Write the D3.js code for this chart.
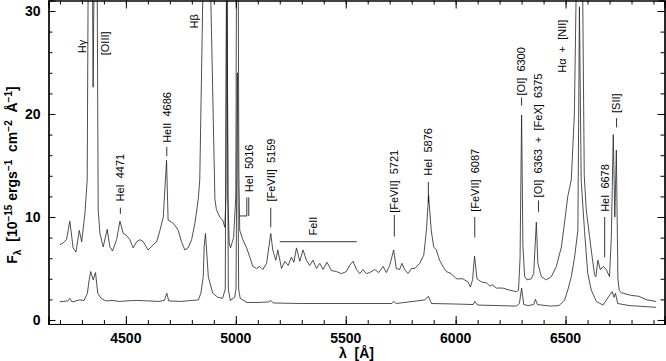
<!DOCTYPE html>
<html>
<head>
<meta charset="utf-8">
<script src="https://cdn.jsdelivr.net/npm/d3@7"></script>
<style>
  body { margin: 0; background: #fff; }
  svg { font-family: "Liberation Sans", Arial, sans-serif; }
  .tick-label { font-size: 14px; font-weight: bold; fill: #000; }
  .line-label { font-size: 11px; fill: #000; white-space: pre; }
  .axis-title { font-size: 14px; font-weight: bold; fill: #000; }
</style>
</head>
<body>
<script>
// spectrum with the broad lines (top curve)
var upperWave = [4200, 4215, 4230, 4245, 4260, 4273, 4288, 4299, 4314, 4324, 4330, 4340, 4351, 4358, 4363, 4368,
  4374, 4382, 4397, 4415, 4427, 4439, 4458, 4473, 4488, 4503, 4518, 4533, 4549, 4564, 4579, 4601, 4624,
  4640, 4655, 4670, 4685, 4692, 4708, 4723, 4738, 4753, 4768, 4783, 4799, 4814, 4829, 4836, 4850, 4861,
  4886, 4905, 4912, 4927, 4940, 4950, 4955, 4959, 4964, 4970, 4976, 4990, 5000, 5007, 5014, 5018, 5032,
  5049, 5064, 5077, 5094, 5109, 5123, 5140, 5159, 5168, 5182, 5191, 5208, 5223, 5238, 5253, 5264, 5276,
  5291, 5306, 5321, 5336, 5351, 5367, 5382, 5397, 5415, 5435, 5458, 5480, 5503, 5518, 5533, 5549, 5564,
  5579, 5594, 5609, 5632, 5650, 5670, 5685, 5700, 5718, 5730, 5745, 5756, 5768, 5783, 5799, 5814, 5836,
  5855, 5867, 5877, 5889, 5900, 5912, 5927, 5945, 5958, 5980, 6003, 6032, 6056, 6067, 6077, 6086, 6097,
  6117, 6140, 6155, 6168, 6185, 6214, 6245, 6276, 6286, 6293, 6300, 6306, 6314, 6324, 6344, 6355, 6367,
  6374, 6390, 6412, 6435, 6458, 6481, 6495, 6510, 6526, 6540, 6548, 6563, 6578, 6585, 6594, 6609, 6621,
  6632, 6638, 6647, 6658, 6673, 6685, 6700, 6708, 6717, 6724, 6731, 6738, 6744, 6753, 6795, 6833, 6870, 6912];
var upperFlux = [7.3, 7.5, 7.8, 9.6, 7.0, 6.6, 8.7, 7.6, 10.4, 13.6, 40, 60, 22.6, 40, 45, 40,
  10.7, 8.4, 7.1, 8.8, 7.1, 6.7, 7.8, 9.6, 8.4, 8.2, 7.8, 7.0, 7.6, 7.8, 7.6, 6.8, 7.3,
  7.6, 8.7, 10.0, 15.5, 9.7, 9.5, 9.2, 8.7, 7.6, 6.8, 7.0, 7.8, 9.4, 11.7, 13.6, 31.5, 80,
  31.5, 11.7, 10.7, 10.0, 9.7, 9.0, 12, 40, 12, 7.5, 7.0, 8.0, 12, 60, 14, 8.7, 7.8,
  7.0, 6.1, 5.2, 5.0, 5.2, 4.9, 5.5, 8.4, 6.8, 5.8, 6.8, 5.0, 5.7, 5.3, 6.1, 5.6, 7.0,
  5.7, 6.8, 5.8, 5.3, 5.8, 5.0, 5.5, 4.9, 5.6, 4.8, 4.7, 4.5, 4.7, 5.3, 5.7, 4.9, 4.5,
  4.9, 4.5, 4.6, 4.9, 4.6, 5.2, 4.6, 5.3, 6.8, 5.0, 4.9, 5.5, 4.9, 4.5, 5.0, 5.0, 5.5,
  6.3, 8.7, 12.1, 8.7, 7.1, 6.8, 5.8, 5.1, 4.7, 4.5, 4.0, 4.0, 3.7, 3.2, 3.9, 6.2, 4.0,
  3.7, 3.6, 3.3, 3.4, 3.1, 3.1, 2.9, 2.75, 2.9, 6.0, 19.9, 7.1, 4.2, 3.9, 4.0, 4.5, 9.5,
  5.5, 4.2, 3.9, 4.2, 5.2, 7.1, 9.4, 12.0, 13.6, 20, 31.5, 80, 31.5, 14, 10.7, 8.1, 6.1,
  4.4, 4.2, 5.8, 4.9, 5.2, 4.9, 4.2, 8, 18, 10, 16.5, 4, 2.9, 2.65, 2.4, 2.3, 1.95, 1.8];

// narrow line spectrum (bottom curve)
var lowerWave = [4200, 4215, 4235, 4245, 4255, 4290, 4310, 4325, 4333, 4340, 4351, 4362, 4372, 4387, 4410,
  4440, 4470, 4500, 4550, 4600, 4650, 4675, 4686, 4695, 4750, 4800, 4830, 4841, 4852, 4856, 4862, 4868,
  4875, 4895, 4918, 4940, 4952, 4959, 4966, 4975, 4995, 5001, 5007, 5013, 5020, 5050, 5100, 5150, 5159,
  5170, 5300, 5500, 5710, 5718, 5730, 5860, 5876, 5890, 6000, 6080, 6087, 6100, 6276, 6290, 6300, 6310,
  6330, 6355, 6363, 6372, 6430, 6470, 6495, 6510, 6526, 6541, 6556, 6563, 6571, 6586, 6601, 6617, 6640,
  6670, 6712, 6720, 6727, 6737, 6790, 6912];
var lowerFlux = [1.78, 1.8, 1.85, 2.1, 1.75, 1.95, 1.9, 2.6, 3.9, 4.7, 3.9, 4.6, 2.6, 2.1, 1.85,
  1.9, 1.8, 1.85, 1.9, 1.85, 1.8, 1.9, 2.6, 1.85, 1.8, 1.9, 1.95, 2.6, 4.2, 7.1, 8.4, 6.5,
  4.2, 2.6, 2.2, 2.1, 3.0, 40, 3.0, 1.9, 2.2, 3.0, 24, 3.0, 2.1, 1.7, 1.7, 1.75, 1.9,
  1.65, 1.6, 1.6, 1.6, 1.8, 1.6, 1.95, 2.3, 1.6, 1.55, 1.5, 1.8, 1.45, 1.35, 1.6, 3.1, 1.5,
  1.4, 1.5, 2.0, 1.5, 1.35, 1.4, 1.9, 2.9, 4.2, 6.1, 8.7, 30.4, 13.6, 8.7, 4.5, 2.9, 1.8,
  1.45, 2.75, 2.2, 2.6, 1.6, 1.4, 1.23];

// line identifications: wavelength of the label, flux where the label starts
var labelText = ["H\u03b3", "[OIII]", "H\u03b2", "HeII  4686", "HeI  4471", "HeI  5016", "[FeVII]  5159",
  "FeII", "[FeVII]  5721", "HeI  5876", "[FeVII]  6087", "[OI]  6300", "[OI]  6363  +  [FeX]  6375",
  "H\u03b1  +  [NII]", "HeI  6678", "[SII]"];
var labelWave = [4300, 4405, 4809, 4686, 4475, 5059, 5159, 5352, 5721, 5876, 6087, 6300, 6377, 6486, 6678, 6732];
var labelFlux = [25.9, 25.7, 28.3, 17.2, 11.5, 12.4, 11.5, 8.2, 10.4, 14.0, 10.5, 21.8, 11.9, 24.0, 10.5, 20.1];
// short marker lines below labels [from flux, to flux], null = none
var markTop = [null, null, null, 16.8, 10.9, 11.9, 10.9, null, 10.2, 13.4, 10.0, 21.6, 11.6, null, 10.0, 19.6];
var markBot = [null, null, null, 15.9, 10.3, 10.1, 9.0, null, 8.1, 11.4, 8.0, 20.8, 10.5, null, 6.1, 18.7];
var feiiRange = [5200, 5550];
var feiiLevel = 7.6;
var bracket5016 = [5018, 5050];

var xTicks = [4500, 5000, 5500, 6000, 6500];
var yTicks = [0, 10, 20, 30];

var W = 666, H = 361;
var margin = {top: 0.5, right: 1.5, bottom: 37, left: 48.5};
var width = W - margin.left - margin.right,
    height = H - margin.top - margin.bottom;

var svg = d3.select("body").append("svg")
  .attr("width", W)
  .attr("height", H);

var g = svg.append("g")
  .attr("transform", "translate(" + margin.left + "," + margin.top + ")");

var x = d3.scaleLinear().domain([4148, 6950]).range([0, width]);
var y = d3.scaleLinear().domain([-0.39, 31.02]).range([height, 0]);

g.append("clipPath").attr("id", "clip")
  .append("rect").attr("width", width).attr("height", height);

var line = d3.line()
  .x(function(d) { return x(d[0]); })
  .y(function(d) { return y(d[1]); });

var plot = g.append("g").attr("clip-path", "url(#clip)");

plot.append("path")
  .datum(d3.zip(upperWave, upperFlux))
  .attr("d", line)
  .attr("fill", "none")
  .attr("stroke", "#222")
  .attr("stroke-width", 0.8);

plot.append("path")
  .datum(d3.zip(lowerWave, lowerFlux))
  .attr("d", line)
  .attr("fill", "none")
  .attr("stroke", "#222")
  .attr("stroke-width", 0.8);

// frame with inward ticks on all four sides
var minorXTicks = d3.range(4200, 6901, 100), minorYTicks = d3.range(0, 31, 2);

g.append("g").attr("transform", "translate(0," + height + ")")
  .call(d3.axisTop(x).tickValues(minorXTicks).tickSize(4).tickFormat(""));
g.append("g").attr("transform", "translate(0," + height + ")")
  .call(d3.axisTop(x).tickValues(xTicks).tickSize(8).tickFormat(""));
g.append("g")
  .call(d3.axisBottom(x).tickValues(minorXTicks).tickSize(4).tickFormat(""));
g.append("g")
  .call(d3.axisBottom(x).tickValues(xTicks).tickSize(8).tickFormat(""));
g.append("g")
  .call(d3.axisRight(y).tickValues(minorYTicks).tickSize(4).tickFormat(""));
g.append("g")
  .call(d3.axisRight(y).tickValues(yTicks).tickSize(7).tickFormat(""));
g.append("g").attr("transform", "translate(" + width + ",0)")
  .call(d3.axisLeft(y).tickValues(minorYTicks).tickSize(4).tickFormat(""));
g.append("g").attr("transform", "translate(" + width + ",0)")
  .call(d3.axisLeft(y).tickValues(yTicks).tickSize(7).tickFormat(""));

g.selectAll(".domain").attr("stroke", "#000").attr("stroke-width", 1.2);
g.selectAll(".tick line").attr("stroke", "#000").attr("stroke-width", 1);

// tick labels
g.selectAll(".xlab").data(xTicks).enter().append("text")
  .attr("class", "tick-label")
  .attr("x", function(d) { return x(d); })
  .attr("y", height + 19)
  .attr("text-anchor", "middle")
  .text(function(d) { return d; });

g.selectAll(".ylab").data(yTicks).enter().append("text")
  .attr("class", "tick-label")
  .attr("x", -8)
  .attr("y", function(d) { return y(d) + 5; })
  .attr("text-anchor", "end")
  .text(function(d) { return d; });

// axis titles
var xt = svg.append("text")
  .attr("class", "axis-title")
  .attr("x", margin.left + width / 2)
  .attr("y", 358)
  .attr("text-anchor", "middle")
  .style("white-space", "pre")
  .text("\u03bb  [\u00c5]");

var yt = svg.append("text")
  .attr("class", "axis-title")
  .attr("transform", "translate(17,175) rotate(-90)")
  .attr("text-anchor", "middle")
  .style("white-space", "pre");
yt.append("tspan").text("F");
yt.append("tspan").text("\u03bb").attr("dy", 4).style("font-size", "10px");
yt.append("tspan").text("  [10").attr("dy", -4);
yt.append("tspan").text("\u221215").attr("dy", -5).style("font-size", "10px");
yt.append("tspan").text(" ergs").attr("dy", 5);
yt.append("tspan").text("\u22121").attr("dy", -5).style("font-size", "10px");
yt.append("tspan").text("  cm").attr("dy", 5);
yt.append("tspan").text("\u22122").attr("dy", -5).style("font-size", "10px");
yt.append("tspan").text("  \u00c5").attr("dy", 5);
yt.append("tspan").text("\u22121").attr("dy", -5).style("font-size", "10px");
yt.append("tspan").text("]").attr("dy", 5);

// line labels
labelText.forEach(function(t, i) {
  g.append("text")
    .attr("class", "line-label")
    .attr("transform", "translate(" + x(labelWave[i]) + "," + y(labelFlux[i]) + ") rotate(-90)")
    .attr("dy", "0.35em")
    .text(t);
  if (markTop[i] != null) {
    g.append("line")
      .attr("x1", x(labelWave[i])).attr("x2", x(labelWave[i]))
      .attr("y1", y(markTop[i])).attr("y2", y(markBot[i]))
      .attr("stroke", "#000").attr("stroke-width", 0.8);
  }
});

// FeII blend range
g.append("line")
  .attr("x1", x(feiiRange[0])).attr("x2", x(feiiRange[1]))
  .attr("y1", y(feiiLevel)).attr("y2", y(feiiLevel))
  .attr("stroke", "#000").attr("stroke-width", 0.8);

// bracket pointing HeI 5016 to its position
g.append("path")
  .attr("d", "M" + x(bracket5016[1]) + "," + y(markTop[5]) + "V" + y(markBot[5]) + "H" + x(bracket5016[0]))
  .attr("fill", "none").attr("stroke", "#000").attr("stroke-width", 0.8);
</script>
</body>
</html>
